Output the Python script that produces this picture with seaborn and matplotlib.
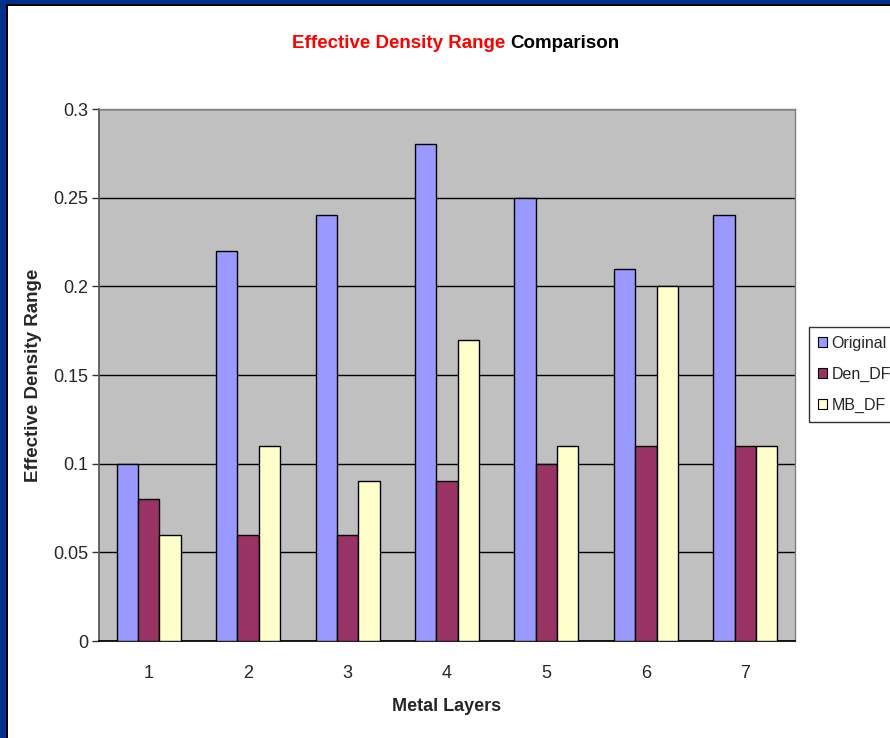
import matplotlib
matplotlib.use("Agg")
import matplotlib.pyplot as plt
from matplotlib.patches import Rectangle
import seaborn as sns
import pandas as pd

layers = ["1", "2", "3", "4", "5", "6", "7"]
original = [0.10, 0.22, 0.24, 0.28, 0.25, 0.21, 0.24]
den_df = [0.08, 0.06, 0.06, 0.09, 0.10, 0.11, 0.11]
mb_df = [0.06, 0.11, 0.09, 0.17, 0.11, 0.20, 0.11]
series = ["Original", "Den_DF", "MB_DF"]
colors = ["#9999FF", "#993366", "#FFFFCC"]
yticks = [0, 0.05, 0.1, 0.15, 0.2, 0.25, 0.3]
ytick_labels = ["0", "0.05", "0.1", "0.15", "0.2", "0.25", "0.3"]

df = pd.DataFrame({
    "layer": layers * 3,
    "value": original + den_df + mb_df,
    "series": [s for s in series for _ in layers],
})

sns.set_theme(style="white")
plt.rcParams["font.family"] = ["Liberation Sans", "DejaVu Sans"]

W, H = 890, 738
fig = plt.figure(figsize=(W / 100, H / 100), dpi=100)
fig.patch.set_facecolor("white")

ax = fig.add_axes([99 / W, 1 - 641 / H, (795 - 99) / W, (641 - 109) / H])
ax.set_facecolor("#C0C0C0")

sns.barplot(data=df, x="layer", y="value", hue="series", palette=colors,
            hue_order=series, order=layers, width=0.645, saturation=1,
            edgecolor="black", linewidth=1, ax=ax, legend=True, zorder=3)

ax.set_ylim(0, 0.3)
ax.set_xlim(-0.5, len(layers) - 0.5)
ax.set_yticks(yticks)
ax.set_yticklabels(ytick_labels, fontsize=13)
ax.yaxis.grid(True, color="black", linewidth=1)
ax.xaxis.grid(False)
ax.set_axisbelow(True)

ax.set_xticks(range(len(layers)))
ax.set_xticklabels(layers, fontsize=13)
ax.tick_params(axis="x", which="major", length=0, pad=17)
ax.set_xticks([i + 0.5 for i in range(-1, len(layers))], minor=True)
ax.tick_params(axis="x", which="minor", length=5, width=1, color="#333333", direction="out")
ax.tick_params(axis="y", which="major", length=5, width=1, color="#333333", direction="out", pad=3, left=True)

for side in ("top", "right"):
    ax.spines[side].set_color("#808080")
    ax.spines[side].set_linewidth(1)
ax.spines["left"].set_color("#555555")
ax.spines["bottom"].set_color("black")
for sp in ax.spines.values():
    sp.set_visible(True)

ax.set_xlabel("Metal Layers", fontsize=13, fontweight="bold", labelpad=12)
ax.set_ylabel("Effective Density Range", fontsize=13.5, fontweight="bold", labelpad=8)

ax.legend_.remove()
handles = [Rectangle((0, 0), 1, 1, facecolor=c, edgecolor="black", linewidth=0.8) for c in colors]
leg = fig.legend(handles, series, loc="upper left", bbox_to_anchor=(809 / W, 1 - 327 / H),
                 fontsize=11.5, frameon=True, fancybox=False, edgecolor="black",
                 handlelength=0.6, handleheight=0.6, handletextpad=0.25,
                 labelspacing=1.0, borderpad=0.55, borderaxespad=0)
leg.get_frame().set_linewidth(1)

# two-tone title
fig.text(505 / W, 1 - 44 / H, "Effective Density Range", color="red",
         fontsize=13.5, fontweight="bold", ha="right", va="center")
fig.text(510 / W, 1 - 44 / H, "Comparison", color="black",
         fontsize=13.5, fontweight="bold", ha="left", va="center")

# slide frame
fig.patches.append(Rectangle((0, 0), 6 / W, 1, transform=fig.transFigure,
                             facecolor="#00308C", edgecolor="none", zorder=10))
fig.patches.append(Rectangle((6 / W, 0), 1.5 / W, 1 - 4 / H, transform=fig.transFigure,
                             facecolor="black", edgecolor="none", zorder=10))
fig.patches.append(Rectangle((0, 1 - 4 / H), 1, 4 / H, transform=fig.transFigure,
                             facecolor="#00308C", edgecolor="none", zorder=10))
fig.patches.append(Rectangle((6 / W, 1 - 5.5 / H), 1, 1.5 / H, transform=fig.transFigure,
                             facecolor="black", edgecolor="none", zorder=10))

fig.savefig("out.png", dpi=100)
